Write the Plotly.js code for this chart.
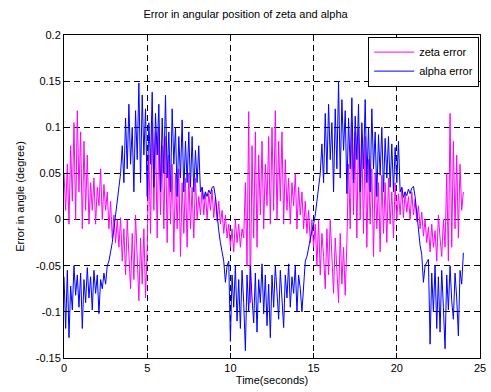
<!DOCTYPE html>
<html>
<head>
<meta charset="utf-8">
<script src="https://cdn.plot.ly/plotly-3.0.1.min.js"></script>
<style>html,body{margin:0;padding:0;background:#fff;}#chart{width:491px;height:392px;}</style>
</head>
<body>
<div id="chart"></div>
<script>
// sampling interval of the recorded signals (seconds)
const sampleStep = 0.1;

// zeta error (degree), one value per sample, t = 0 .. 24 s
const zetaError = [
  0.050, 0.010, 0.060,-0.005, 0.080, 0.020, 0.105, 0.000, 0.118, 0.030,
  0.095,-0.010, 0.085, 0.010, 0.070,-0.005, 0.040, 0.010, 0.045,-0.005,
  0.035, 0.015, 0.055, 0.000, 0.038, 0.010, 0.030,-0.010, 0.020,-0.020,
  0.005,-0.025, 0.000,-0.030, 0.002,-0.045,-0.010,-0.060, 0.000,-0.040,
 -0.075,-0.015,-0.065, 0.005,-0.050,-0.088,-0.020,-0.070,-0.010,-0.085,
 -0.030, 0.070,-0.015, 0.105, 0.010, 0.095,-0.020, 0.100, 0.005, 0.080,
 -0.010, 0.090,-0.025, 0.070,-0.005, 0.060,-0.035, 0.050,-0.010, 0.055,
 -0.040, 0.040,-0.015, 0.045,-0.030, 0.050,-0.010, 0.035,-0.020, 0.045,
  0.000, 0.025, 0.005, 0.035, 0.005, 0.030, 0.000, 0.028, 0.010, 0.032,
  0.002, 0.025,-0.002, 0.020,-0.005, 0.010,-0.015, 0.005,-0.020,-0.005,
 -0.030,-0.010,-0.035, 0.000,-0.025,-0.005,-0.030,-0.010,-0.020, 0.040,
 -0.050, 0.117,-0.090, 0.080,-0.020, 0.095,-0.030, 0.070, 0.005, 0.085,
 -0.010, 0.060, 0.015, 0.090,-0.005, 0.100, 0.010, 0.118, 0.000, 0.085,
  0.020, 0.095,-0.005, 0.065, 0.010, 0.045,-0.005, 0.040, 0.015, 0.050,
 -0.010, 0.035, 0.005, 0.030,-0.010, 0.020,-0.015, 0.010,-0.025, 0.000,
 -0.030,-0.005,-0.050, 0.000,-0.060,-0.015,-0.040,-0.075,-0.010,-0.060,
  0.000,-0.045,-0.080,-0.020,-0.065,-0.090,-0.015,-0.070,-0.030,-0.082,
 -0.025, 0.060,-0.010, 0.105, 0.005, 0.095,-0.020, 0.100, 0.000, 0.085,
 -0.015, 0.090,-0.030, 0.065,-0.005, 0.055,-0.040, 0.050,-0.010, 0.040,
 -0.035, 0.048,-0.015, 0.040,-0.025, 0.045,-0.005, 0.030,-0.020, 0.040,
  0.000, 0.028, 0.005, 0.035, 0.002, 0.030, 0.008, 0.025, 0.000, 0.030,
  0.005, 0.022,-0.002, 0.015,-0.010, 0.008,-0.018, 0.000,-0.025,-0.008,
 -0.035,-0.005,-0.030,-0.012,-0.045, 0.005,-0.020,-0.040, 0.000,-0.030,
  0.050,-0.045, 0.115,-0.030, 0.085,-0.010, 0.070,-0.020, 0.060, 0.010,
  0.030
];

// alpha error (degree), one value per sample, t = 0 .. 24 s
const alphaError = [
 -0.062,-0.118,-0.055,-0.128,-0.072,-0.098,-0.050,-0.082,-0.060,-0.095,
 -0.058,-0.118,-0.065,-0.090,-0.052,-0.085,-0.062,-0.098,-0.055,-0.080,
 -0.060,-0.102,-0.065,-0.075,-0.058,-0.070,-0.050,-0.045,-0.035,-0.025,
 -0.010, 0.005, 0.018, 0.035, 0.050, 0.080, 0.040, 0.110, 0.055, 0.125,
  0.060, 0.100, 0.030, 0.118, 0.065, 0.148, 0.040, 0.135, 0.070, 0.120,
  0.025, 0.105, 0.060, 0.138, 0.035, 0.115, 0.070, 0.125, 0.030, 0.110,
  0.050, 0.135, 0.045, 0.095, 0.030, 0.120, 0.060, 0.100, 0.025, 0.090,
  0.045, 0.108, 0.030, 0.085, 0.040, 0.095, 0.035, 0.090, 0.030, 0.075,
  0.040, 0.080, 0.030, 0.035, 0.022, 0.030, 0.025, 0.032, 0.028, 0.035,
  0.036, 0.025, 0.005,-0.012,-0.025,-0.035,-0.045,-0.068,-0.050,-0.045,
 -0.132,-0.060,-0.095,-0.050,-0.110,-0.065,-0.118,-0.055,-0.090,-0.142,
 -0.060,-0.100,-0.050,-0.085,-0.112,-0.058,-0.122,-0.065,-0.090,-0.048,
 -0.102,-0.060,-0.115,-0.070,-0.128,-0.060,-0.095,-0.050,-0.080,-0.108,
 -0.055,-0.090,-0.117,-0.060,-0.085,-0.048,-0.095,-0.062,-0.080,-0.050,
 -0.100,-0.060,-0.075,-0.100,-0.068,-0.045,-0.040,-0.030,-0.020,-0.012,
 -0.005, 0.005, 0.020, 0.035, 0.050, 0.082, 0.040, 0.115, 0.050, 0.125,
  0.065, 0.105, 0.030, 0.120, 0.055, 0.150, 0.045, 0.130, 0.075, 0.118,
  0.028, 0.110, 0.055, 0.132, 0.040, 0.112, 0.065, 0.125, 0.030, 0.105,
  0.055, 0.130, 0.040, 0.100, 0.030, 0.120, 0.055, 0.095, 0.025, 0.092,
  0.048, 0.100, 0.030, 0.088, 0.045, 0.090, 0.035, 0.082, 0.030, 0.078,
  0.040, 0.085, 0.030, 0.035, 0.024, 0.030, 0.026, 0.033, 0.028, 0.034,
  0.036, 0.025, 0.005,-0.015,-0.028,-0.038,-0.068,-0.050,-0.047,-0.043,
 -0.135,-0.058,-0.100,-0.050,-0.118,-0.062,-0.122,-0.055,-0.095,-0.140,
 -0.060,-0.098,-0.050,-0.088,-0.108,-0.058,-0.085,-0.126,-0.055,-0.070,
 -0.036
];

const seriesNames = ['zeta error', 'alpha error'];
const seriesColors = ['#ff00ff', '#0000ff'];
const xTickVals = [0, 5, 10, 15, 20, 25];
const yTickVals = [-0.15, -0.1, -0.05, 0, 0.05, 0.1, 0.15, 0.2];
const yTickText = ['-0.15', '-0.1', '-0.05', '0', '0.05', '0.1', '0.15', '0.2'];

const timeOf = arr => arr.map((_, i) => +(i * sampleStep).toFixed(2));

const traces = [zetaError, alphaError].map((vals, k) => ({
  x: timeOf(vals),
  y: vals,
  type: 'scatter',
  mode: 'lines',
  name: seriesNames[k],
  line: {color: seriesColors[k], width: 1}
}));

const font = {family: 'Liberation Sans, Arial, sans-serif', size: 11, color: '#000'};
const axisCommon = {
  showline: true, linecolor: '#000', linewidth: 1, mirror: 'ticks',
  ticks: 'inside', ticklen: 5, tickcolor: '#000', tickwidth: 1,
  showgrid: true, gridcolor: '#000', gridwidth: 1, griddash: '6px,4px',
  zeroline: false, tickfont: font
};

const layout = {
  width: 491, height: 392,
  margin: {l: 64, r: 11, t: 35, b: 34},
  paper_bgcolor: '#fff', plot_bgcolor: '#fff',
  font: font,
  title: {text: 'Error in angular position of zeta and alpha', font: font, x: 0.5, xanchor: 'center', y: 0.965, yanchor: 'middle'},
  xaxis: Object.assign({}, axisCommon, {
    range: [0, 25], tickvals: xTickVals, ticktext: xTickVals.map(String),
    title: {text: 'Time(seconds)', font: font, standoff: 2}
  }),
  yaxis: Object.assign({}, axisCommon, {
    range: [-0.15, 0.2], tickvals: yTickVals, ticktext: yTickText,
    title: {text: 'Error in angle (degree)', font: font, standoff: 8}
  }),
  legend: {
    x: 0.998, y: 0.995, xanchor: 'right', yanchor: 'top',
    bgcolor: '#fff', bordercolor: '#000', borderwidth: 1,
    font: font, tracegroupgap: 0, itemwidth: 40
  },
  showlegend: true
};

Plotly.newPlot('chart', traces, layout, {staticPlot: true, displayModeBar: false});
</script>
</body>
</html>
